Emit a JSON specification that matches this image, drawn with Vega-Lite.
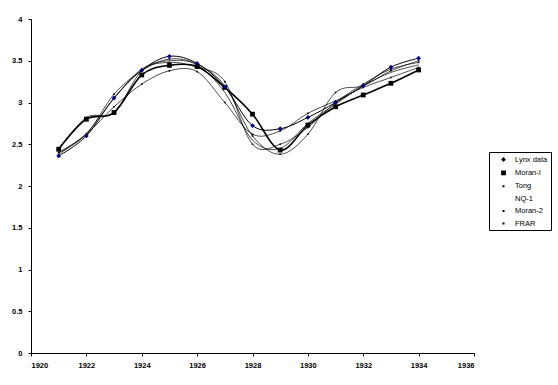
{
  "$schema": "https://vega.github.io/schema/vega-lite/v6.json",
  "width": 443,
  "height": 334,
  "autosize": {"type": "none"},
  "padding": {"left": 31, "top": 19, "right": 84, "bottom": 32},
  "background": "white",
  "config": {
    "view": {"stroke": null},
    "axis": {
      "grid": false,
      "domainColor": "black",
      "domainWidth": 1,
      "tickColor": "black",
      "tickSize": 3,
      "labelColor": "black",
      "labelFont": "Liberation Sans",
      "labelFontSize": 7.5,
      "labelFontWeight": "bold",
      "title": null
    }
  },
  "data": {
    "values": [
      {"year": 1921, "series": "Lynx data", "value": 2.36},
      {"year": 1922, "series": "Lynx data", "value": 2.6},
      {"year": 1923, "series": "Lynx data", "value": 3.054},
      {"year": 1924, "series": "Lynx data", "value": 3.386},
      {"year": 1925, "series": "Lynx data", "value": 3.553},
      {"year": 1926, "series": "Lynx data", "value": 3.468},
      {"year": 1927, "series": "Lynx data", "value": 3.187},
      {"year": 1928, "series": "Lynx data", "value": 2.723},
      {"year": 1929, "series": "Lynx data", "value": 2.686},
      {"year": 1930, "series": "Lynx data", "value": 2.821},
      {"year": 1931, "series": "Lynx data", "value": 3.0},
      {"year": 1932, "series": "Lynx data", "value": 3.201},
      {"year": 1933, "series": "Lynx data", "value": 3.424},
      {"year": 1934, "series": "Lynx data", "value": 3.531},
      {"year": 1921, "series": "Moran-I", "value": 2.44},
      {"year": 1922, "series": "Moran-I", "value": 2.8},
      {"year": 1923, "series": "Moran-I", "value": 2.88},
      {"year": 1924, "series": "Moran-I", "value": 3.33},
      {"year": 1925, "series": "Moran-I", "value": 3.445},
      {"year": 1926, "series": "Moran-I", "value": 3.43},
      {"year": 1927, "series": "Moran-I", "value": 3.18},
      {"year": 1928, "series": "Moran-I", "value": 2.86},
      {"year": 1929, "series": "Moran-I", "value": 2.43},
      {"year": 1930, "series": "Moran-I", "value": 2.73},
      {"year": 1931, "series": "Moran-I", "value": 2.95},
      {"year": 1932, "series": "Moran-I", "value": 3.09},
      {"year": 1933, "series": "Moran-I", "value": 3.23},
      {"year": 1934, "series": "Moran-I", "value": 3.39},
      {"year": 1921, "series": "Tong", "value": 2.4},
      {"year": 1922, "series": "Tong", "value": 2.62},
      {"year": 1923, "series": "Tong", "value": 3.1},
      {"year": 1924, "series": "Tong", "value": 3.38},
      {"year": 1925, "series": "Tong", "value": 3.52},
      {"year": 1926, "series": "Tong", "value": 3.46},
      {"year": 1927, "series": "Tong", "value": 3.2},
      {"year": 1928, "series": "Tong", "value": 2.6},
      {"year": 1929, "series": "Tong", "value": 2.38},
      {"year": 1930, "series": "Tong", "value": 2.62},
      {"year": 1931, "series": "Tong", "value": 3.12},
      {"year": 1932, "series": "Tong", "value": 3.2},
      {"year": 1933, "series": "Tong", "value": 3.38},
      {"year": 1934, "series": "Tong", "value": 3.5},
      {"year": 1921, "series": "NQ-1", "value": 2.38},
      {"year": 1922, "series": "NQ-1", "value": 2.63},
      {"year": 1923, "series": "NQ-1", "value": 3.05},
      {"year": 1924, "series": "NQ-1", "value": 3.4},
      {"year": 1925, "series": "NQ-1", "value": 3.5},
      {"year": 1926, "series": "NQ-1", "value": 3.45},
      {"year": 1927, "series": "NQ-1", "value": 3.12},
      {"year": 1928, "series": "NQ-1", "value": 2.55},
      {"year": 1929, "series": "NQ-1", "value": 2.45},
      {"year": 1930, "series": "NQ-1", "value": 2.75},
      {"year": 1931, "series": "NQ-1", "value": 2.98},
      {"year": 1932, "series": "NQ-1", "value": 3.2},
      {"year": 1933, "series": "NQ-1", "value": 3.36},
      {"year": 1934, "series": "NQ-1", "value": 3.45},
      {"year": 1921, "series": "Moran-2", "value": 2.4},
      {"year": 1922, "series": "Moran-2", "value": 2.62},
      {"year": 1923, "series": "Moran-2", "value": 2.95},
      {"year": 1924, "series": "Moran-2", "value": 3.22},
      {"year": 1925, "series": "Moran-2", "value": 3.38},
      {"year": 1926, "series": "Moran-2", "value": 3.37},
      {"year": 1927, "series": "Moran-2", "value": 3.0},
      {"year": 1928, "series": "Moran-2", "value": 2.62},
      {"year": 1929, "series": "Moran-2", "value": 2.66},
      {"year": 1930, "series": "Moran-2", "value": 2.87},
      {"year": 1931, "series": "Moran-2", "value": 3.02},
      {"year": 1932, "series": "Moran-2", "value": 3.18},
      {"year": 1933, "series": "Moran-2", "value": 3.3},
      {"year": 1934, "series": "Moran-2", "value": 3.42},
      {"year": 1921, "series": "FRAR", "value": 2.45},
      {"year": 1922, "series": "FRAR", "value": 2.82},
      {"year": 1923, "series": "FRAR", "value": 2.88},
      {"year": 1924, "series": "FRAR", "value": 3.38},
      {"year": 1925, "series": "FRAR", "value": 3.48},
      {"year": 1926, "series": "FRAR", "value": 3.42},
      {"year": 1927, "series": "FRAR", "value": 3.25},
      {"year": 1928, "series": "FRAR", "value": 2.5},
      {"year": 1929, "series": "FRAR", "value": 2.5},
      {"year": 1930, "series": "FRAR", "value": 2.7},
      {"year": 1931, "series": "FRAR", "value": 3.0},
      {"year": 1932, "series": "FRAR", "value": 3.22},
      {"year": 1933, "series": "FRAR", "value": 3.4},
      {"year": 1934, "series": "FRAR", "value": 3.48}
    ]
  },
  "encoding": {
    "x": {
      "field": "year",
      "type": "quantitative",
      "scale": {"domain": [1920, 1936], "nice": false, "zero": false},
      "axis": {"values": [1920, 1922, 1924, 1926, 1928, 1930, 1932, 1934, 1936], "format": "d", "labelPadding": 5}
    },
    "y": {
      "field": "value",
      "type": "quantitative",
      "scale": {"domain": [0, 4], "nice": false},
      "axis": {"values": [0, 0.5, 1, 1.5, 2, 2.5, 3, 3.5, 4], "format": "~g", "labelPadding": 6}
    }
  },
  "layer": [
    {
      "transform": [{"filter": "datum.series !== 'Lynx data' && datum.series !== 'Moran-I'"}],
      "mark": {"type": "line", "interpolate": "cardinal", "color": "black", "strokeWidth": 0.7},
      "encoding": {"detail": {"field": "series"}}
    },
    {
      "transform": [{"filter": "datum.series === 'Lynx data'"}],
      "mark": {"type": "line", "interpolate": "cardinal", "color": "black", "strokeWidth": 1},
      "encoding": {}
    },
    {
      "transform": [{"filter": "datum.series === 'Moran-I'"}],
      "mark": {"type": "line", "interpolate": "cardinal", "color": "black", "strokeWidth": 1.6},
      "encoding": {}
    },
    {
      "transform": [{"filter": "datum.series === 'Tong' || datum.series === 'Moran-2' || datum.series === 'FRAR'"}],
      "mark": {"type": "point", "shape": "M-0.2,-0.2L0.2,-0.2L0.2,0.2L-0.2,0.2Z", "filled": true, "size": 64, "color": "black", "opacity": 1},
      "encoding": {}
    },
    {
      "transform": [{"filter": "datum.series === 'Moran-I'"}],
      "mark": {"type": "point", "shape": "M-0.6,-0.6L0.6,-0.6L0.6,0.6L-0.6,0.6Z", "filled": true, "size": 64, "color": "black", "opacity": 1},
      "encoding": {}
    },
    {
      "transform": [{"filter": "datum.series === 'Lynx data'"}],
      "mark": {"type": "point", "shape": "M0,-0.6L0.6,0L0,0.6L-0.6,0Z", "filled": true, "size": 64, "color": "#000080", "opacity": 1},
      "encoding": {}
    },
    {
      "transform": [{"filter": "false"}],
      "mark": {"type": "point", "filled": false, "size": 64, "stroke": "black", "fill": "black", "strokeWidth": 0.7, "opacity": 1},
      "encoding": {
        "shape": {
          "field": "series",
          "type": "nominal",
          "scale": {
            "domain": ["Lynx data", "Moran-I", "Tong", "NQ-1", "Moran-2", "FRAR"],
            "range": ["M-0.75,0L4.25,0M1.75,-0.6L2.35,0L1.75,0.6L1.15,0Z", "M-0.75,0L4.25,0M1.15,-0.6L2.35,-0.6L2.35,0.6L1.15,0.6Z", "M-0.75,0L4.25,0M1.5,-0.25L2,-0.25L2,0.25L1.5,0.25Z", "M-0.75,0L4.25,0", "M-0.75,0L4.25,0M1.5,-0.25L2,-0.25L2,0.25L1.5,0.25Z", "M-0.75,0L4.25,0M1.5,-0.25L2,-0.25L2,0.25L1.5,0.25Z"]
          },
          "legend": {
            "title": null,
            "orient": "none",
            "legendX": 458,
            "legendY": 133,
            "strokeColor": "black",
            "fillColor": "white",
            "padding": 3,
            "symbolSize": 64,
            "symbolStrokeColor": "black",
            "symbolFillColor": "black",
            "symbolStrokeWidth": 0.7,
            "labelFont": "Liberation Sans",
            "labelFontSize": 7.5,
            "labelColor": "black",
            "labelOffset": 14,
            "rowPadding": 4.4
          }
        }
      }
    }
  ]
}
